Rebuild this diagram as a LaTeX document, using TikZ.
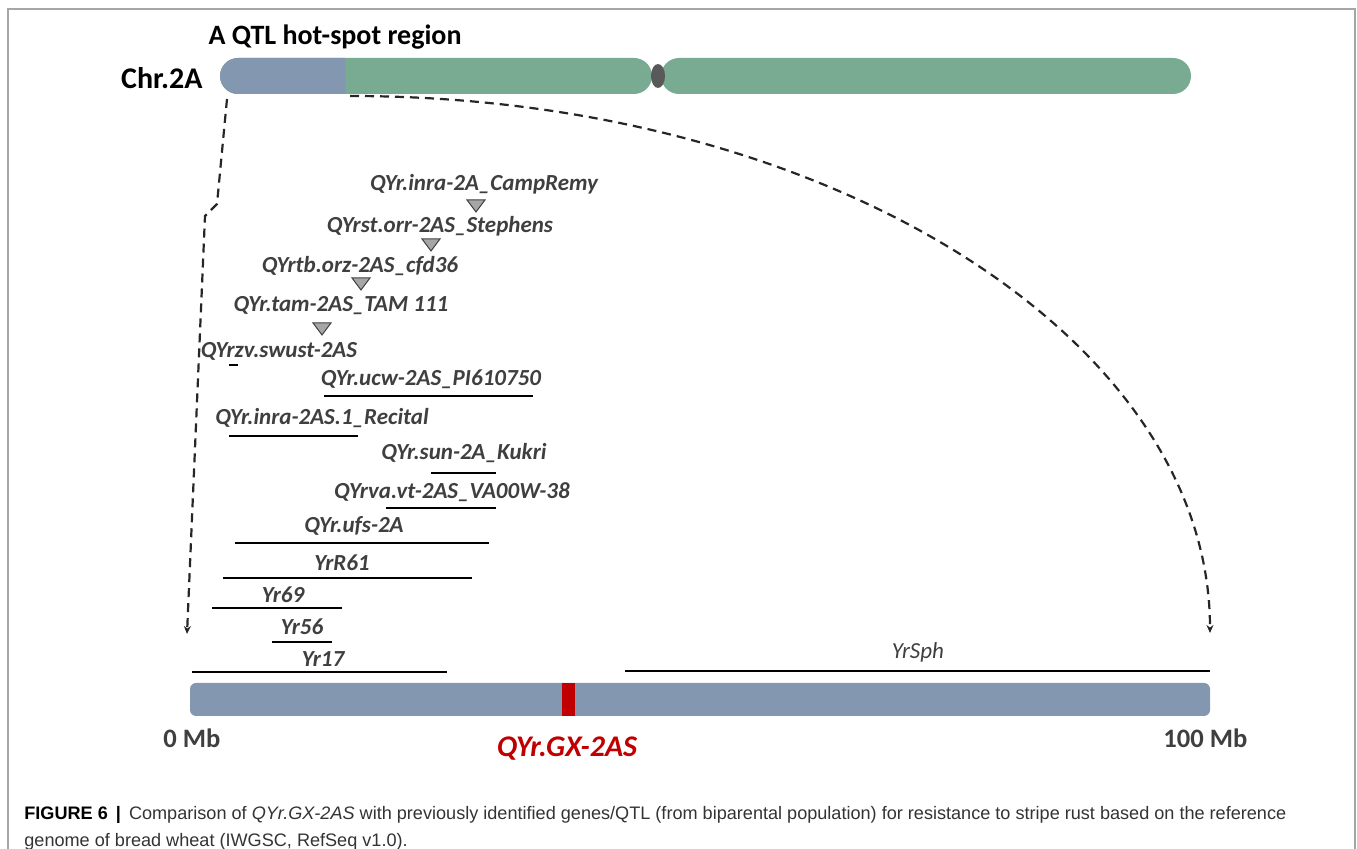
\documentclass[tikz,border=0pt]{standalone}
\usepackage{fontspec}
\setmainfont{Carlito}
\newfontfamily\capfont{Liberation Sans}
\usetikzlibrary{arrows.meta}
\definecolor{chrblue}{HTML}{8497B0}
\definecolor{chrgreen}{HTML}{79AA92}
\definecolor{centro}{HTML}{595959}
\definecolor{labgray}{HTML}{3F3F3F}
\definecolor{qred}{HTML}{C00000}
\definecolor{framegray}{HTML}{A6A6A6}
\definecolor{capgray}{HTML}{333333}
\begin{document}
\begin{tikzpicture}[x=0.5pt,y=-0.5pt,
  qlab/.style={font=\fontsize{11.5}{12}\selectfont\bfseries\itshape, text=labgray, inner sep=0pt},
  qbar/.style={line width=1.4pt, black},
  tri/.style={fill=black!35, draw=black!75, line width=0.5pt},
  link/.style={dash pattern=on 4.5pt off 3pt, line width=1.1pt, black!85, -{Stealth[length=4pt,width=3.5pt]}},
  bigtxt/.style={font=\fontsize{15}{16}\selectfont\bfseries, inner sep=0pt},
  mbtxt/.style={font=\fontsize{13.3}{14}\selectfont\bfseries, text=labgray, inner sep=0pt},
  captxt/.style={anchor=base west, inner sep=0pt, text=capgray, font=\capfont\fontsize{9.05}{11}\selectfont}]
\useasboundingbox (0,0) rectangle (1357,849);
% frame
\draw[framegray, line width=1pt] (8,849) -- (8,9) -- (1355,9) -- (1355,849);

% title texts
\node[bigtxt, font=\fontsize{14}{15}\selectfont\bfseries] (title) at (335,37) {A QTL hot-spot region};
\node[bigtxt, anchor=east] (chr) at (203,78) {Chr.2A};

% chromosome
\fill[chrgreen, rounded corners=9pt] (220,58) rectangle (652,94);
\begin{scope}
  \clip (210,50) rectangle (345,100);
  \fill[chrblue, rounded corners=9pt] (220,58) rectangle (652,94);
\end{scope}
\fill[chrgreen, rounded corners=9pt] (661,58) rectangle (1191,94);
\fill[centro] (658,76) ellipse [x radius=7, y radius=12];

% expanded region bar
\node[draw=none, fill=chrblue, rounded corners=3pt, minimum width=510pt, minimum height=16.5pt, inner sep=0pt] (region) at (700,699.5) {};
\fill[qred] (562,683) rectangle (575,716);
\node[mbtxt, anchor=west] (zero) at (163,738) {0 Mb};
\node[mbtxt, anchor=west] (hundred) at (1163,738) {100 Mb};
\node[font=\fontsize{15}{16}\selectfont\bfseries\itshape, text=qred, inner sep=0pt] (gx) at (567,749) {QYr.GX-2AS};

% connectors
\coordinate (lstart) at (227,99);
\coordinate (lend) at (187,634);
\coordinate (rstart) at (350,96);
\coordinate (rend) at (1210,633);
\draw[link] (lstart) -- (217,204) -- (205,216) -- (lend);
\draw[link] (rstart) .. controls (825,96) and (1210,337) .. (rend);

% triangle-marked QTL
\node[qlab] (campremy) at (484,184) {QYr.inra-2A\_CampRemy};
\draw[tri] (467,200) -- (485,200) -- (476,212) -- cycle;
\node[qlab] (stephens) at (440,226) {QYrst.orr-2AS\_Stephens};
\draw[tri] (422,239) -- (440,239) -- (431,251) -- cycle;
\node[qlab] (cfd) at (360,266) {QYrtb.orz-2AS\_cfd36};
\draw[tri] (352,278) -- (370,278) -- (361,290) -- cycle;
\node[qlab] (tam) at (341,306) {QYr.tam-2AS\_TAM 111};
\draw[tri] (313,323) -- (331,323) -- (322,335) -- cycle;
\node[qlab] (swust) at (279,351) {QYrzv.swust-2AS};
\draw[qbar] (229,365) -- (238,365);

% interval QTL
\node[qlab] (ucw) at (431,379) {QYr.ucw-2AS\_PI610750};
\draw[qbar] (324,396) -- (533,396);
\node[qlab] (recital) at (322,418) {QYr.inra-2AS.1\_Recital};
\draw[qbar] (229,436) -- (358,436);
\node[qlab] (kukri) at (464,453) {QYr.sun-2A\_Kukri};
\draw[qbar] (431,473) -- (496,473);
\node[qlab] (va) at (452,492) {QYrva.vt-2AS\_VA00W-38};
\draw[qbar] (386,508) -- (496,508);
\node[qlab] (ufs) at (354,526) {QYr.ufs-2A};
\draw[qbar] (235,543) -- (489,543);
\node[qlab] (r61) at (342,563) {YrR61};
\draw[qbar] (223,578) -- (472,578);
\node[qlab] (y69) at (283,595) {Yr69};
\draw[qbar] (212,608) -- (342,608);
\node[qlab] (y56) at (302,627) {Yr56};
\draw[qbar] (272,642) -- (332,642);
\node[qlab] (y17) at (323,659) {Yr17};
\draw[qbar] (192,672) -- (447,672);
\node[qlab, font=\fontsize{11.5}{12}\selectfont\itshape] (sph) at (918,652) {YrSph};
\draw[qbar, line width=1.3pt] (625,671) -- (1210,671);

% caption
\node[captxt] (cap1) at (24,820)
  {{\color{black}\bfseries FIGURE 6 \,|\,} Comparison of \textit{QYr.GX-2AS} with previously identified genes/QTL (from biparental population) for resistance to stripe rust based on the reference};
\node[captxt] (cap2) at (24,847)
  {genome of bread wheat (IWGSC, RefSeq v1.0).};
\end{tikzpicture}
\end{document}
